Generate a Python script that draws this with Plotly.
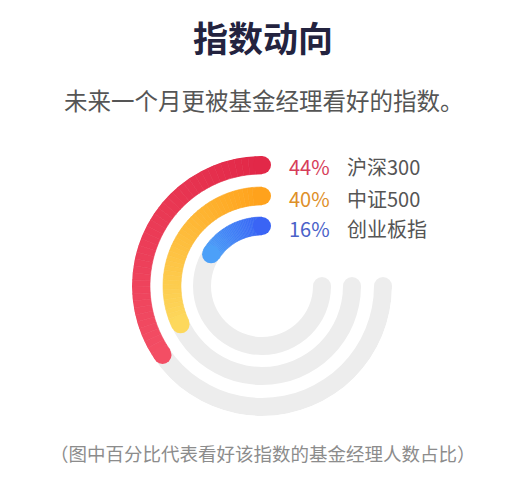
import plotly.graph_objects as go

# data
names = ["沪深300", "中证500", "创业板指"]
pct = [44, 40, 16]
pct_labels = ["44%", "40%", "16%"]

title_text = "指数动向"
subtitle_text = "未来一个月更被基金经理看好的指数。"
note_text = "（图中百分比代表看好该指数的基金经理人数占比）"

# styling
OFF = 8                    # page body margin
W, H = 519 - OFF, 485 - OFF
CX, CY = 262, 286          # ring centre in screen pixels
R_MAX = 130                # outer edge of outer ring
ring_r = [121, 90, 60]     # stroke centre radius of each ring
THICK = 18
TRACK_DEG = 270
# sweep scale used by the design (fixed lead-in + degrees per percent)
LEAD_DEG, DEG_PER_PCT = 20, 2.38

grad = [
    ((226, 40, 72), (243, 78, 100)),
    ((255, 162, 28), (253, 216, 92)),
    ((58, 100, 245), (76, 160, 248)),
]
pct_colors = ["#d63d59", "#de8f28", "#4a62c9"]
track_color = "#ededed"
FONT = "Noto Sans CJK SC"


def px_x(x):
    return (x - OFF) / W


def px_y(y):
    return 1 - (y - OFF) / H


def mix(c0, c1, t):
    return "rgb(%d,%d,%d)" % tuple(round(a + (b - a) * t) for a, b in zip(c0, c1))


fig = go.Figure()

# grey tracks
for r in ring_r:
    fig.add_trace(go.Barpolar(
        r=[THICK], base=[r - THICK / 2], theta=[TRACK_DEG / 2], width=[TRACK_DEG],
        marker=dict(color=track_color, line=dict(width=0)), hoverinfo="skip"))
    fig.add_trace(go.Scatterpolar(
        r=[r], theta=[TRACK_DEG], mode="markers",
        marker=dict(size=THICK, color=track_color, line=dict(width=0)), hoverinfo="skip"))

# coloured arcs, split in segments to get the gradient
N = 40
for r, v, (c0, c1) in zip(ring_r, pct, grad):
    sweep = LEAD_DEG + DEG_PER_PCT * v
    step = sweep / N
    thetas = [step * (i + 0.5) for i in range(N)]
    cols = [mix(c0, c1, i / (N - 1)) for i in range(N)]
    fig.add_trace(go.Barpolar(
        r=[THICK] * N, base=[r - THICK / 2] * N, theta=thetas, width=[step] * N,
        marker=dict(color=cols, line=dict(color=cols, width=0.6)), hoverinfo="skip"))
    fig.add_trace(go.Scatterpolar(
        r=[r, r], theta=[0, sweep], mode="markers",
        marker=dict(size=THICK, color=[mix(c0, c1, 0), mix(c0, c1, 1)], line=dict(width=0)),
        hoverinfo="skip"))

annotations = [
    dict(text="<b>" + title_text + "</b>", x=px_x(263), y=px_y(37),
         font=dict(size=35, color="#23233f", family=FONT)),
    dict(text=subtitle_text, x=px_x(264), y=px_y(100),
         font=dict(size=23.5, color="#555555", family=FONT)),
    dict(text=note_text, x=px_x(263), y=px_y(453),
         font=dict(size=18.5, color="#8c8c8c", family=FONT)),
]
for r, lab, name, col in zip(ring_r, pct_labels, names, pct_colors):
    y = px_y(CY - r + 2)
    annotations.append(dict(text=lab, x=px_x(287), y=y, xanchor="left",
                            font=dict(size=20, color=col, family=FONT)))
    annotations.append(dict(text=name, x=px_x(345), y=y, xanchor="left",
                            font=dict(size=20, color="#555555", family=FONT)))
for a in annotations:
    a.update(xref="paper", yref="paper", showarrow=False, yanchor="middle")
    a.setdefault("xanchor", "center")

fig.update_layout(
    width=W, height=H,
    margin=dict(l=0, r=0, t=0, b=0),
    paper_bgcolor="white",
    showlegend=False,
    polar=dict(
        domain=dict(x=[px_x(CX - R_MAX), px_x(CX + R_MAX)],
                    y=[px_y(CY + R_MAX), px_y(CY - R_MAX)]),
        bgcolor="white",
        bargap=0,
        radialaxis=dict(range=[0, R_MAX], visible=False),
        angularaxis=dict(rotation=90, direction="counterclockwise", visible=False),
    ),
    annotations=annotations,
)

fig.write_html("out.html")
